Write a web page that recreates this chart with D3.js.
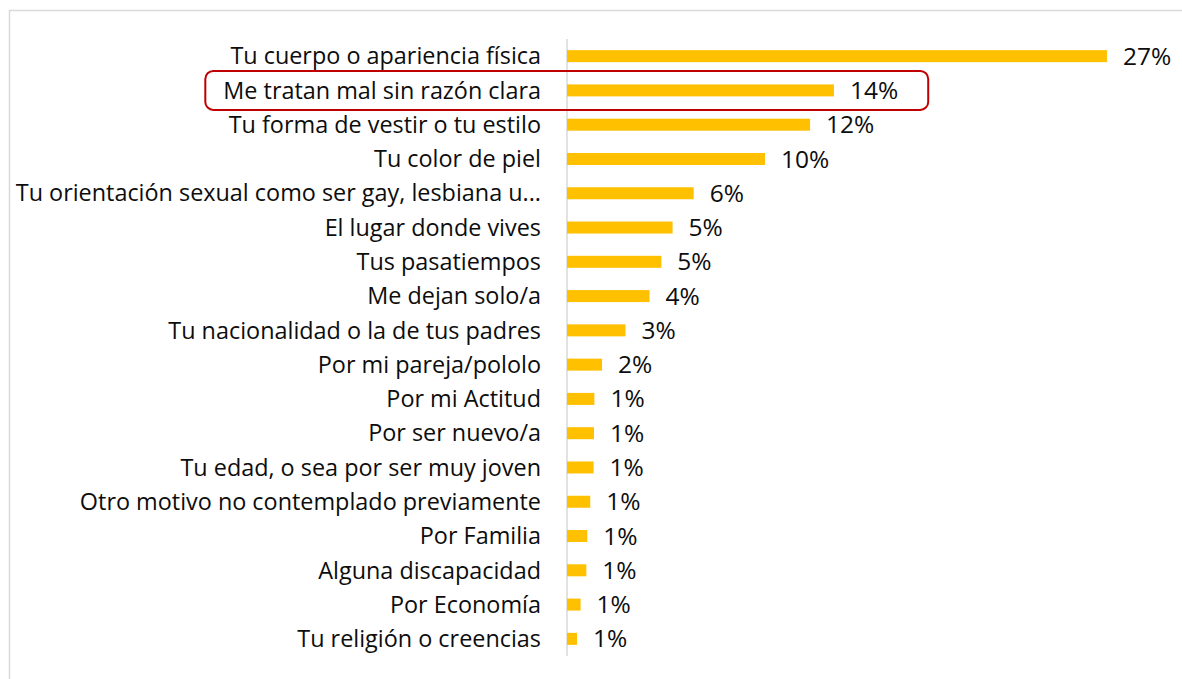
<!DOCTYPE html>
<html lang="es">
<head>
<meta charset="utf-8">
<script src="https://cdn.jsdelivr.net/npm/d3@7"></script>
<style>
  html, body { margin: 0; padding: 0; background: #ffffff; }
  svg { display: block; }
  text { font-family: "Open Sans", Lato, sans-serif; fill: #0d0d0d; }
</style>
</head>
<body>
<svg id="chart" width="1182" height="679"></svg>
<script>
// Motivos de discriminación (proporción de respuestas)
const categories = [
  "Tu cuerpo o apariencia física",
  "Me tratan mal sin razón clara",
  "Tu forma de vestir o tu estilo",
  "Tu color de piel",
  "Tu orientación sexual como ser gay, lesbiana u...",
  "El lugar donde vives",
  "Tus pasatiempos",
  "Me dejan solo/a",
  "Tu nacionalidad o la de tus padres",
  "Por mi pareja/pololo",
  "Por mi Actitud",
  "Por ser nuevo/a",
  "Tu edad, o sea por ser muy joven",
  "Otro motivo no contemplado previamente",
  "Por Familia",
  "Alguna discapacidad",
  "Por Economía",
  "Tu religión o creencias"
];

const values = [
  0.2741, 0.1355, 0.1234, 0.1005, 0.0643, 0.0536, 0.0479, 0.0419, 0.0297,
  0.0178, 0.0139, 0.0137, 0.0135, 0.0118, 0.0103, 0.0098, 0.0069, 0.0051
];

const highlighted = ["Me tratan mal sin razón clara"];

const data = categories.map((c, i) => ({ category: c, value: values[i] }));

const svg = d3.select("#chart");
const fmt = d3.format(".0%");
const fontFamily = "'Open Sans', Lato, sans-serif";

// outer chart frame (continues past the right and bottom edges)
svg.append("rect")
  .attr("x", 9.5).attr("y", 10.5)
  .attr("width", 1200).attr("height", 700)
  .attr("fill", "none")
  .attr("stroke", "#d9d9d9")
  .attr("stroke-width", 1.5);

const plotLeft = 567, plotTop = 39, plotBottom = 656;

const x = d3.scaleLinear()
  .domain([0, 0.30])
  .range([plotLeft, plotLeft + 591]);

const y = d3.scaleBand()
  .domain(categories)
  .range([plotTop, plotBottom])
  .paddingInner(0.65)
  .paddingOuter(0.325);

// category axis
const yAxis = svg.append("g")
  .attr("transform", `translate(${plotLeft},0)`)
  .call(d3.axisLeft(y).tickSize(0).tickSizeOuter(0).tickPadding(26));

yAxis.select(".domain")
  .attr("stroke", "#d9d9d9")
  .attr("stroke-width", 1.5)
  .attr("d", `M0,${plotTop}V${plotBottom}`);

yAxis.selectAll(".tick text")
  .attr("font-size", 23.4)
  .attr("font-family", fontFamily)
  .attr("fill", "#0d0d0d")
  .attr("dy", "0.35em");

// bars
svg.append("g")
  .selectAll("rect")
  .data(data)
  .join("rect")
  .attr("x", x(0))
  .attr("y", d => y(d.category))
  .attr("width", d => x(d.value) - x(0))
  .attr("height", y.bandwidth())
  .attr("fill", "#ffc000");

// value labels
const valueLabels = svg.append("g")
  .selectAll("text")
  .data(data)
  .join("text")
  .attr("x", d => x(d.value) + 16)
  .attr("y", d => y(d.category) + y.bandwidth() / 2)
  .attr("dy", "0.35em")
  .attr("font-size", 24.5)
  .text(d => fmt(d.value));

// highlight frame around the selected rows
highlighted.forEach(cat => {
  const tick = yAxis.selectAll(".tick").filter(d => d === cat).select("text").node();
  const lbl = valueLabels.filter(d => d.category === cat).node();
  const tb = tick.getBBox();
  const lb = lbl.getBBox();
  const left = plotLeft + tb.x - 18;
  const right = lb.x + lb.width + 30;
  const cy = y(cat) + y.bandwidth() / 2;
  svg.append("rect")
    .attr("x", left)
    .attr("y", cy - 19.5)
    .attr("width", right - left)
    .attr("height", 39)
    .attr("rx", 8)
    .attr("fill", "none")
    .attr("stroke", "#c00000")
    .attr("stroke-width", 2);
});
</script>
</body>
</html>
